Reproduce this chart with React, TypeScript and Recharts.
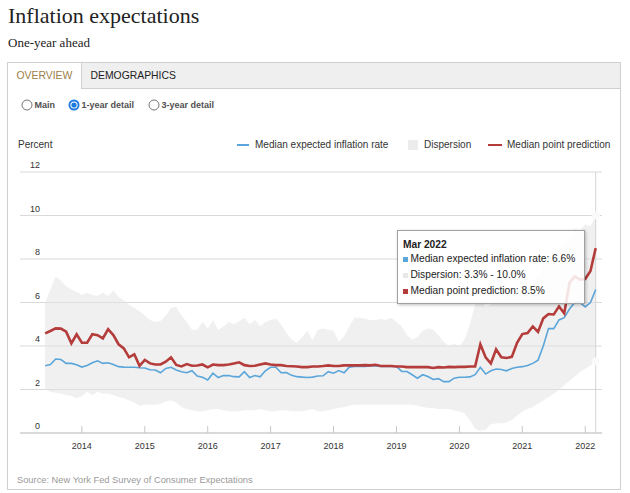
import {
  ComposedChart,
  Area,
  Line,
  XAxis,
  YAxis,
  CartesianGrid,
  ReferenceLine,
  ReferenceDot,
} from "recharts"

// monthly survey, Jun 2013 .. Mar 2022
const START_YEAR = 2013
const START_MONTH = 5 // June, 0-based
const MONTH_NAMES = ["Jan", "Feb", "Mar", "Apr", "May", "Jun", "Jul", "Aug", "Sep", "Oct", "Nov", "Dec"]

const medianExpected = [
  3.09, 3.15, 3.4, 3.38, 3.2, 3.2, 3.14,
  3.03, 3.1, 3.23, 3.32, 3.2, 3.23, 3.15, 3.05, 3.03, 3.02, 3.02, 3.0,
  2.99, 2.91, 2.9, 2.77, 2.97, 3.02, 2.9, 2.82, 2.77, 2.86, 2.62, 2.56,
  2.44, 2.75, 2.55, 2.64, 2.64, 2.59, 2.58, 2.82, 2.55, 2.64, 2.58, 2.86,
  3.02, 3.02, 2.77, 2.78, 2.65, 2.59, 2.57, 2.55, 2.57, 2.62, 2.63, 2.82,
  2.75, 2.87, 2.77, 3.03, 3.06, 3.06, 3.06, 3.08, 3.08, 3.06, 3.06, 3.06,
  3.06, 2.83, 2.83, 2.68, 2.52, 2.68, 2.6, 2.46, 2.5, 2.36, 2.36, 2.52,
  2.56, 2.56, 2.58, 2.68, 3.02, 2.71, 2.86, 2.94, 2.92, 2.86, 2.97, 3.02,
  3.05, 3.1, 3.2, 3.35, 4.0, 4.8, 4.8, 5.2, 5.3, 5.7, 6.0, 6.0,
  5.8, 6.0, 6.6,
]

const medianPoint = [
  4.58, 4.69, 4.81, 4.8, 4.66, 4.12, 4.54,
  4.15, 4.15, 4.54, 4.5, 4.35, 4.77, 4.5, 4.08, 3.89, 3.48, 3.62, 3.09,
  3.36, 3.2, 3.15, 3.15, 3.28, 3.48, 3.13, 3.06, 3.17, 3.09, 3.1, 3.15,
  3.02, 3.15, 3.12, 3.12, 3.15, 3.2, 3.25, 3.12, 3.08, 3.09, 3.15, 3.2,
  3.15, 3.12, 3.12, 3.08, 3.07, 3.06, 3.03, 3.03, 3.06, 3.06, 3.08, 3.11,
  3.08, 3.08, 3.11, 3.11, 3.11, 3.11, 3.12, 3.11, 3.14, 3.08, 3.08, 3.08,
  3.06, 3.06, 3.03, 3.03, 3.03, 3.03, 3.03, 2.99, 3.03, 3.01, 3.04, 3.03,
  3.04, 3.04, 3.06, 3.06, 4.08, 3.48, 3.2, 3.85, 3.48, 3.45, 3.5, 4.15,
  4.55, 4.6, 4.9, 4.65, 5.27, 5.47, 5.45, 5.82, 5.5, 6.9, 7.2, 7.05,
  7.08, 7.45, 8.5,
]

const dispersionLow = [
  2.0, 1.9, 1.85, 1.8, 1.75, 1.7, 1.6,
  1.7, 1.9, 1.75, 1.9, 1.8, 1.8, 1.75, 1.65, 1.6, 1.5, 1.4, 1.25,
  1.3, 1.3, 1.3, 1.35, 1.45, 1.5, 1.4, 1.2, 1.1, 1.05, 1.0, 1.0,
  1.05, 1.1, 1.1, 1.05, 1.0, 1.0, 1.0, 1.05, 1.05, 1.05, 1.1, 1.05,
  1.0, 1.0, 1.05, 1.05, 1.0, 1.0, 1.0, 1.05, 1.1, 1.0, 1.0, 1.05,
  1.1, 1.15, 1.2, 1.25, 1.3, 1.3, 1.3, 1.3, 1.3, 1.3, 1.3, 1.3,
  1.3, 1.3, 1.3, 1.3, 1.25, 1.2, 1.15, 1.15, 1.1, 1.1, 1.1, 1.05,
  1.0, 0.9, 0.6, 0.2, 0.1, 0.15, 0.4, 0.45, 0.45, 0.5, 0.6, 0.8,
  1.0, 1.1, 1.2, 1.35, 1.5, 1.65, 1.8, 2.0, 2.2, 2.4, 2.6, 2.8,
  2.95, 3.1, 3.3,
]

const dispersionHigh = [
  6.0, 6.6, 7.2, 7.0, 6.75, 6.6, 6.5,
  6.35, 6.45, 6.35, 6.3, 6.45, 6.3, 6.55, 6.25, 6.1, 5.9, 5.75, 5.6,
  5.4, 5.2, 5.1, 5.15, 5.4, 5.75, 5.8, 5.4, 5.1, 4.75, 4.75, 5.1,
  4.8, 5.2, 4.75, 4.9, 5.1, 5.0, 5.15, 5.3, 5.0, 5.2, 4.9, 5.1,
  5.2, 5.25, 5.0, 4.6, 4.3, 4.15, 4.4, 4.7, 4.25, 4.75, 4.8, 4.75,
  4.7, 4.2, 4.45, 4.9, 5.3, 5.3, 5.25, 5.2, 5.2, 5.25, 5.2, 5.3,
  5.1, 4.9, 4.5, 4.3, 4.4, 4.7, 4.8, 4.75, 4.5, 4.2, 4.0, 4.1,
  4.0, 4.3, 5.0, 5.9, 6.2, 5.8, 5.9, 6.3, 6.2, 6.3, 6.4, 6.7,
  6.8, 6.6, 7.0, 7.2, 7.8, 8.2, 8.0, 8.5, 8.6, 9.0, 9.4, 9.3,
  9.6, 9.5, 10.0,
]

const yearLabels = ["2014", "2015", "2016", "2017", "2018", "2019", "2020", "2021", "2022"]
const yTicks = [0, 2, 4, 6, 8, 10, 12]

const BASE_YEAR = 2014
const X_DOMAIN = [-11.8, 99.2]

const CHART_W = 612
const CHART_H = 320
const X_AXIS_H = 30
const Y_AXIS_W = 12
const MARGIN = { top: 22, right: 18, bottom: 7, left: 0 }
const PLOT_BOTTOM = CHART_H - MARGIN.bottom - X_AXIS_H

const BLUE = "#5aa5da"
const RED = "#b43c3b"
const BAND = "#e4e4e4"
const SANS = "'Liberation Sans', Arial, Helvetica, sans-serif"

const monthIndex = (i: number) => START_YEAR * 12 + START_MONTH + i - BASE_YEAR * 12
const monthLabel = (i: number) => {
  const abs = START_YEAR * 12 + START_MONTH + i
  return `${MONTH_NAMES[abs % 12]} ${Math.floor(abs / 12)}`
}

const XTick = (props: any) => {
  const { x, payload } = props
  return (
    <g>
      <line x1={x} x2={x} y1={PLOT_BOTTOM - 7} y2={PLOT_BOTTOM} stroke="#c8c8c8" />
      <text x={x} y={PLOT_BOTTOM + 15.5} textAnchor="middle" fontSize={9} fill="#333" fontFamily={SANS}>
        {BASE_YEAR + payload.value / 12}
      </text>
    </g>
  )
}

// labels sit inside the plot, right-aligned, just above their grid line
const YTick = (props: any) => (
  <text x={32} y={props.y - 4} textAnchor="end" fontSize={9} fill="#333" fontFamily={SANS}>
    {props.payload.value}
  </text>
)

const Radio = ({ checked }: { checked: boolean }) => (
  <svg width={12} height={12} style={{ display: "block" }}>
    {checked ? (
      <>
        <circle cx={6} cy={6} r={5.5} fill="#1f7ae0" />
        <circle cx={6} cy={6} r={3.6} fill="#fff" />
        <circle cx={6} cy={6} r={2.6} fill="#1f7ae0" />
      </>
    ) : (
      <circle cx={6} cy={6} r={5} fill="#fff" stroke="#777" strokeWidth={1} />
    )}
  </svg>
)

const abs = (style: React.CSSProperties): React.CSSProperties => ({ position: "absolute", ...style })

const App = () => {
  const data = medianExpected.map((v, i) => ({
    t: monthIndex(i),
    expected: v,
    point: medianPoint[i],
    range: [dispersionLow[i], dispersionHigh[i]],
  }))
  const last = data.length - 1
  const xTicks = yearLabels.map((y) => (Number(y) - BASE_YEAR) * 12)

  const radios = [
    { label: "Main", x: 21, checked: false },
    { label: "1-year detail", x: 68, checked: true },
    { label: "3-year detail", x: 148, checked: false },
  ]

  return (
    <div style={abs({ left: 0, top: 0, width: 630, height: 493, fontFamily: SANS, color: "#333", background: "#fff" })}>
      <div style={abs({ left: 8, top: 5, fontFamily: "'Liberation Serif', Georgia, serif", fontSize: 22, lineHeight: "22px", color: "#222", whiteSpace: "nowrap" })}>
        Inflation expectations
      </div>
      <div style={abs({ left: 8, top: 35.5, fontFamily: "'Liberation Serif', Georgia, serif", fontSize: 13, lineHeight: "13px", color: "#222", whiteSpace: "nowrap" })}>
        One-year ahead
      </div>

      {/* frame + tabs */}
      <div style={abs({ left: 7, top: 62, width: 614, height: 428, border: "1px solid #cfcfcf", boxSizing: "border-box" })} />
      <div style={abs({ left: 8, top: 63, width: 612, height: 26, background: "#efefef", borderBottom: "1px solid #cfcfcf", boxSizing: "border-box" })} />
      <div style={abs({ left: 8, top: 63, width: 74, height: 26, background: "#fff", borderRight: "1px solid #cfcfcf", boxSizing: "border-box" })} />
      <div style={abs({ left: 16.5, top: 70, fontSize: 10.4, lineHeight: "12px", color: "#9c8048", whiteSpace: "nowrap" })}>OVERVIEW</div>
      <div style={abs({ left: 90.5, top: 70, fontSize: 10.4, lineHeight: "12px", color: "#222", whiteSpace: "nowrap" })}>DEMOGRAPHICS</div>

      {radios.map((r) => (
        <div key={r.label} style={abs({ left: r.x - 0.5, top: 98.5, display: "flex", alignItems: "center", gap: 2 })}>
          <Radio checked={r.checked} />
          <span style={{ fontSize: 9, fontWeight: 700, color: "#505050", lineHeight: "12px", whiteSpace: "nowrap" }}>{r.label}</span>
        </div>
      ))}

      {/* axis title and legend */}
      <div style={abs({ left: 18, top: 139, fontSize: 10, lineHeight: "12px", color: "#333" })}>Percent</div>
      <div style={abs({ left: 237, top: 144, width: 12, height: 2, background: BLUE })} />
      <div style={abs({ left: 255, top: 139, fontSize: 10, lineHeight: "12px", color: "#333", whiteSpace: "nowrap" })}>
        Median expected inflation rate
      </div>
      <div style={abs({ left: 408, top: 140, width: 10, height: 10, background: "#ececec" })} />
      <div style={abs({ left: 424, top: 139, fontSize: 10, lineHeight: "12px", color: "#333", whiteSpace: "nowrap" })}>Dispersion</div>
      <div style={abs({ left: 488, top: 144, width: 14, height: 2, background: RED })} />
      <div style={abs({ left: 507, top: 139, fontSize: 10, lineHeight: "12px", color: "#333", whiteSpace: "nowrap" })}>
        Median point prediction
      </div>

      <div style={abs({ left: 8, top: 150 })}>
        <ComposedChart width={CHART_W} height={CHART_H} data={data} margin={MARGIN}>
          <CartesianGrid vertical={false} stroke="#d9d9d9" />
          <XAxis
            type="number"
            dataKey="t"
            domain={X_DOMAIN}
            allowDataOverflow
            ticks={xTicks}
            interval={0}
            height={X_AXIS_H}
            axisLine={{ stroke: "#c8c8c8" }}
            tickLine={false}
            tick={XTick}
          />
          <YAxis
            domain={[0, 12]}
            ticks={yTicks}
            interval={0}
            width={Y_AXIS_W}
            axisLine={false}
            tickLine={false}
            tick={YTick}
          />
          <Area
            dataKey="range"
            type="linear"
            stroke="none"
            fill={BAND}
            fillOpacity={0.55}
            isAnimationActive={false}
            dot={false}
            activeDot={false}
          />
          <ReferenceLine x={data[last].t} stroke="#d4d4d4" strokeWidth={1} />
          <ReferenceDot x={data[last].t} y={dispersionHigh[last]} r={4} fill="#fafafa" stroke="none" />
          <ReferenceDot x={data[last].t} y={dispersionLow[last]} r={4} fill="#fafafa" stroke="none" />
          <Line
            dataKey="expected"
            type="linear"
            stroke={BLUE}
            strokeWidth={1.6}
            dot={false}
            isAnimationActive={false}
          />
          <Line
            dataKey="point"
            type="linear"
            stroke={RED}
            strokeWidth={2.6}
            dot={false}
            isAnimationActive={false}
          />
        </ComposedChart>
      </div>

      {/* hover box for the latest month */}
      <div
        style={abs({
          left: 397,
          top: 230,
          width: 188,
          height: 74,
          background: "rgba(255,255,255,0.86)",
          border: "1px solid #a0a0a0",
          boxShadow: "1px 1px 3px rgba(0,0,0,0.25)",
          boxSizing: "border-box",
          fontSize: 10.2,
          color: "#222",
        })}
      >
        <div style={abs({ left: 5, top: 6, lineHeight: "16px", fontWeight: 700, whiteSpace: "nowrap" })}>{monthLabel(last)}</div>
        <div style={abs({ left: 5, top: 20, lineHeight: "16px", whiteSpace: "nowrap", display: "flex", alignItems: "center" })}>
          <span style={{ width: 5, height: 5, background: BLUE, marginRight: 2.5, display: "inline-block" }} />
          Median expected inflation rate: {medianExpected[last].toFixed(1)}%
        </div>
        <div style={abs({ left: 5, top: 36, lineHeight: "16px", whiteSpace: "nowrap", display: "flex", alignItems: "center" })}>
          <span style={{ width: 5, height: 5, background: "#e8e8e8", marginRight: 2.5, display: "inline-block" }} />
          Dispersion: {dispersionLow[last].toFixed(1)}% - {dispersionHigh[last].toFixed(1)}%
        </div>
        <div style={abs({ left: 5, top: 52, lineHeight: "16px", whiteSpace: "nowrap", display: "flex", alignItems: "center" })}>
          <span style={{ width: 5, height: 5, background: RED, marginRight: 2.5, display: "inline-block" }} />
          Median point prediction: {medianPoint[last].toFixed(1)}%
        </div>
      </div>

      <div style={abs({ left: 17, top: 474, fontSize: 9.3, lineHeight: "12px", color: "#9a9a9a", whiteSpace: "nowrap" })}>
        Source: New York Fed Survey of Consumer Expectations
      </div>
    </div>
  )
}

export default App
